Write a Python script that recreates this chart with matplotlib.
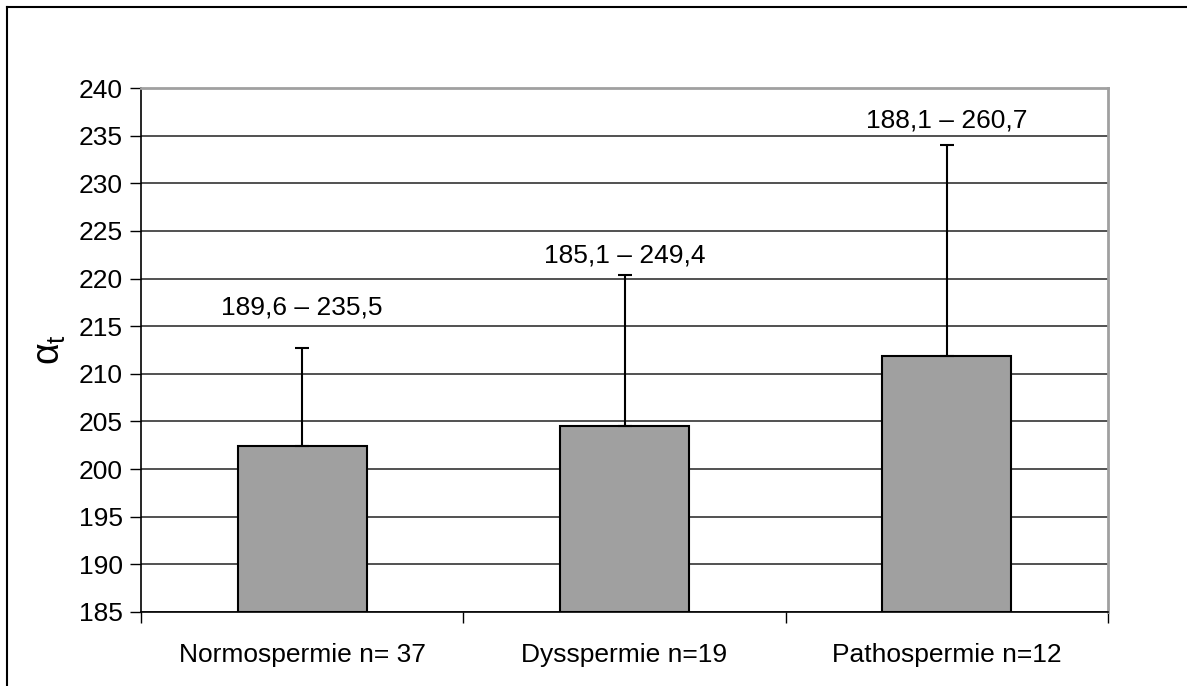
import matplotlib.pyplot as plt
import matplotlib.lines as mlines
import numpy as np

plt.rcParams['font.family'] = ['Liberation Sans', 'DejaVu Sans']
plt.rcParams['mathtext.fontset'] = 'custom'
plt.rcParams['mathtext.rm'] = 'Liberation Sans'
plt.rcParams['mathtext.it'] = 'Liberation Sans'

categories = ['Normospermie n= 37', 'Dysspermie n=19', 'Pathospermie n=12']
means = [202.4, 204.5, 211.9]
sd = [10.3, 15.9, 22.1]
ranges = ['189,6 \u2013 235,5', '185,1 \u2013 249,4', '188,1 \u2013 260,7']
label_y = [217.0, 222.4, 236.6]

fig = plt.figure(figsize=(11.87, 6.86), dpi=100)
ax = fig.add_axes([0.1188, 0.1079, 0.8147, 0.7638])

x = np.arange(len(categories))
ax.bar(x, [m - 185 for m in means], bottom=185, width=0.4,
       color='#a0a0a0', edgecolor='black', linewidth=1.5, zorder=3)
ax.errorbar(x, means, yerr=[np.zeros(len(sd)), sd], fmt='none',
            ecolor='black', elinewidth=1.5, capsize=5, capthick=1.5, zorder=4)

for xi, t, yl in zip(x, ranges, label_y):
    ax.text(xi, yl, t, ha='center', va='center', fontsize=19)

ax.set_xlim(-0.5, 2.5)
ax.set_ylim(185, 240)
ax.set_yticks(np.arange(185, 241, 5))
ax.set_xticks(x)
ax.set_xticklabels(categories, fontsize=19)
ax.set_xticks([-0.5, 0.5, 1.5, 2.5], minor=True)
ax.tick_params(axis='x', which='major', length=0, pad=22)
ax.tick_params(axis='x', which='minor', length=8, width=1, direction='out')
ax.tick_params(axis='y', labelsize=19, length=8, width=1, direction='out', pad=5)
ax.yaxis.grid(True, color='#333333', linewidth=1.2, zorder=0)
ax.set_axisbelow(True)

for s in ['top', 'right']:
    ax.spines[s].set_color('#a0a0a0')
    ax.spines[s].set_linewidth(2)
for s in ['left', 'bottom']:
    ax.spines[s].set_color('black')
    ax.spines[s].set_linewidth(1.2)

ax.set_ylabel(r'$\alpha_t$', fontsize=27, labelpad=8)

# outer frame (left and top edges only)
fig.add_artist(mlines.Line2D([7 / 1187, 7 / 1187], [0, 1 - 7 / 686],
                             color='black', linewidth=1.5, transform=fig.transFigure))
fig.add_artist(mlines.Line2D([7 / 1187, 1], [1 - 7 / 686, 1 - 7 / 686],
                             color='black', linewidth=1.5, transform=fig.transFigure))

fig.savefig('out.png', dpi=100)
